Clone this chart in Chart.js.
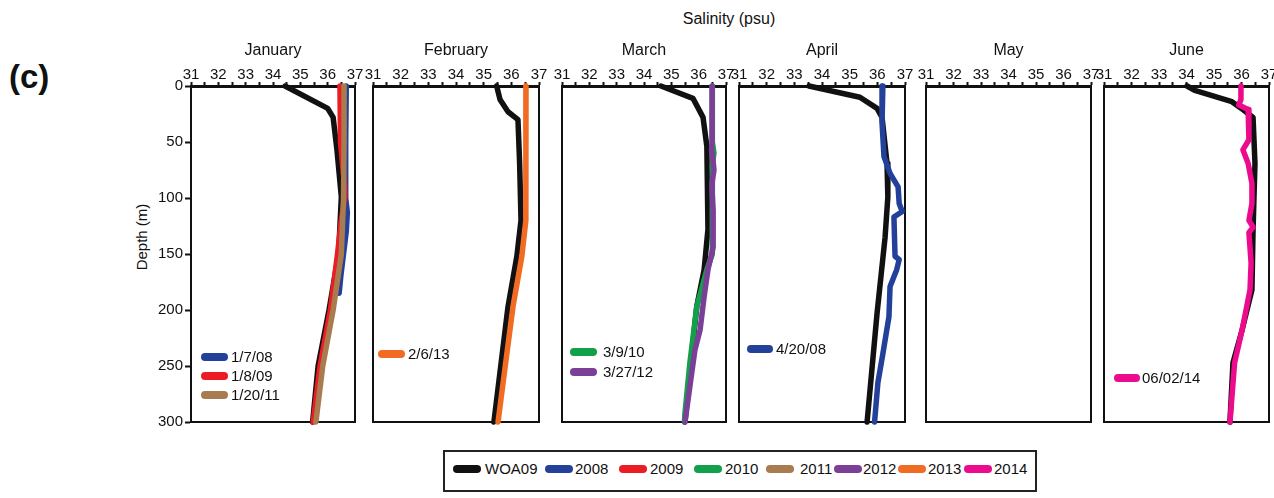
<!DOCTYPE html>
<html>
<head>
<meta charset="utf-8">
<script src="https://cdn.jsdelivr.net/npm/chart.js@4.4.1/dist/chart.umd.min.js"></script>
<style>
  html, body { margin:0; padding:0; background:#fff; }
  body { width:1274px; height:498px; overflow:hidden; position:relative;
         font-family:'Liberation Sans', Arial, Helvetica, sans-serif; color:#111; }
  .abs { position:absolute; white-space:nowrap; }
  .panel { position:absolute; }
  .mtitle { position:absolute; font-size:16px; text-align:center; width:160px; }
  #legendBox { position:absolute; left:443px; top:450px; width:590px; height:38px; border:2px solid #222; }
  .lsw { position:absolute; height:8px; width:28px; border-radius:4px; }
  .ltx { position:absolute; font-size:15px; }
</style>
</head>
<body>
<div class="abs" style="left:634px;top:10px;width:190px;text-align:center;font-size:16px;">Salinity (psu)</div>
<div class="abs" style="left:9px;top:58px;font-weight:bold;font-size:33px;font-family:'Liberation Sans Narrow','Liberation Sans',Arial,sans-serif;">(c)</div>
<div class="abs" style="left:141px;top:237px;transform:translate(-50%,-50%) rotate(-90deg);font-size:15px;">Depth (m)</div>
<div id="legendBox"></div>

<script>
// ---------------- DATA ----------------
const months = ['January', 'February', 'March', 'April', 'May', 'June'];
const salinityTicks = [31, 32, 33, 34, 35, 36, 37];
const depthTicks = [0, 50, 100, 150, 200, 250, 300];
const legendYears = ['WOA09', '2008', '2009', '2010', '2011', '2012', '2013', '2014'];

// January
const janWoaDepth = [0, 20, 28, 57, 99, 150, 200, 250, 300];
const janWoaSal   = [34.44, 36.0, 36.2, 36.34, 36.5, 36.4, 36.05, 35.65, 35.45];
const jan08Depth  = [0, 50, 100, 113, 130, 150, 170, 185];
const jan08Sal    = [36.68, 36.66, 36.66, 36.72, 36.68, 36.58, 36.48, 36.42];
const jan09Depth  = [0, 50, 90, 100, 120, 150, 200, 250, 300];
const jan09Sal    = [36.45, 36.47, 36.62, 36.62, 36.5, 36.36, 36.1, 35.72, 35.47];
const jan11Depth  = [0, 50, 100, 150, 200, 250, 300];
const jan11Sal    = [36.6, 36.6, 36.58, 36.5, 36.2, 35.82, 35.57];

// February
const febWoaDepth = [0, 12, 23, 30, 69, 120, 152, 197, 300];
const febWoaSal   = [35.47, 35.59, 35.88, 36.24, 36.3, 36.35, 36.2, 35.88, 35.37];
const feb13Depth  = [0, 60, 120, 152, 197, 250, 300];
const feb13Sal    = [36.53, 36.53, 36.52, 36.38, 36.06, 35.78, 35.52];

// March
const marWoaDepth = [0, 11, 28, 54, 128, 164, 197, 250, 300];
const marWoaSal   = [34.62, 35.79, 36.16, 36.3, 36.34, 36.2, 35.93, 35.7, 35.5];
const mar10Depth  = [0, 50, 60, 70, 100, 150, 164, 197, 247, 292, 300];
const mar10Sal    = [36.5, 36.5, 36.56, 36.5, 36.5, 36.5, 36.3, 35.93, 35.68, 35.5, 35.48];
const mar12Depth  = [0, 50, 57, 65, 75, 85, 93, 111, 144, 164, 188, 218, 236, 300];
const mar12Sal    = [36.49, 36.49, 36.47, 36.52, 36.56, 36.5, 36.49, 36.53, 36.53, 36.34, 36.2, 36.05, 35.86, 35.5];

// April
const aprWoaDepth = [0, 10, 20, 28, 69, 99, 135, 203, 300];
const aprWoaSal   = [33.53, 35.37, 35.99, 36.17, 36.35, 36.38, 36.28, 35.99, 35.63];
const apr08Depth  = [0, 33, 63, 78, 90, 105, 112, 117, 152, 155, 164, 179, 206, 239, 265, 300];
const apr08Sal    = [36.2, 36.17, 36.24, 36.46, 36.75, 36.79, 36.9, 36.6, 36.64, 36.79, 36.7, 36.46, 36.42, 36.2, 36.02, 35.9];

// June
const junWoaDepth = [0, 4, 14, 21, 28, 69, 129, 182, 218, 247, 300];
const junWoaSal   = [34.02, 34.3, 35.65, 36.05, 36.42, 36.49, 36.42, 36.38, 36.02, 35.69, 35.58];
const jun14Depth  = [0, 12, 17, 21, 48, 57, 69, 87, 105, 120, 126, 131, 158, 182, 218, 247, 300];
const jun14Sal    = [35.98, 35.98, 35.9, 36.24, 36.27, 36.05, 36.24, 36.38, 36.38, 36.27, 36.42, 36.27, 36.35, 36.31, 36.02, 35.75, 35.58];

// ---------------- STYLE ----------------
const colors = {
  WOA09: '#111111', '2008': '#23409a', '2009': '#ec1c24', '2010': '#12a04b',
  '2011': '#a97c50', '2012': '#7c3f98', '2013': '#f26b22', '2014': '#ec0b8c'
};

function pts(sal, dep) { return sal.map((s, i) => ({ x: s, y: dep[i] })); }

function series(label, year, sal, dep, order) {
  return {
    label: label, data: pts(sal, dep), showLine: true,
    borderColor: colors[year], backgroundColor: colors[year],
    borderWidth: 5.5, pointRadius: 0, pointHoverRadius: 0,
    borderCapStyle: 'round', borderJoinStyle: 'round', tension: 0,
    clip: false, order: order
  };
}

const PLOT_TOP = 86, PLOT_BOTTOM = 422, CONT_TOP = 56;

const panels = [
  { month: months[0], left: 191, right: 355, axisY: true,
    legend: { x0: 10, x1: 37, tx: 40, y0: 271, gap: 19 },
    datasets: [
      series('WOA09', 'WOA09', janWoaSal, janWoaDepth, 10),
      series('1/7/08', '2008', jan08Sal, jan08Depth, 3),
      series('1/8/09', '2009', jan09Sal, jan09Depth, 2),
      series('1/20/11', '2011', jan11Sal, jan11Depth, 1)
    ] },
  { month: months[1], left: 373, right: 539, axisY: false,
    legend: { x0: 5, x1: 32, tx: 35, y0: 268, gap: 19 },
    datasets: [
      series('WOA09', 'WOA09', febWoaSal, febWoaDepth, 10),
      series('2/6/13', '2013', feb13Sal, feb13Depth, 1)
    ] },
  { month: months[2], left: 562, right: 726, axisY: false,
    legend: { x0: 8, x1: 35, tx: 41, y0: 266, gap: 20 },
    datasets: [
      series('WOA09', 'WOA09', marWoaSal, marWoaDepth, 10),
      series('3/9/10', '2010', mar10Sal, mar10Depth, 2),
      series('3/27/12', '2012', mar12Sal, mar12Depth, 1)
    ] },
  { month: months[3], left: 739, right: 905, axisY: false,
    legend: { x0: 8, x1: 34, tx: 37, y0: 263, gap: 19 },
    datasets: [
      series('WOA09', 'WOA09', aprWoaSal, aprWoaDepth, 10),
      series('4/20/08', '2008', apr08Sal, apr08Depth, 1)
    ] },
  { month: months[4], left: 926, right: 1091, axisY: false,
    legend: { x0: 8, x1: 34, tx: 37, y0: 263, gap: 19 },
    datasets: [] },
  { month: months[5], left: 1104, right: 1269, axisY: false,
    legend: { x0: 10, x1: 36, tx: 38, y0: 292, gap: 19 },
    datasets: [
      series('WOA09', 'WOA09', junWoaSal, junWoaDepth, 10),
      series('06/02/14', '2014', jun14Sal, jun14Depth, 1)
    ] }
];

// ---------------- PLUGIN ----------------
const panelPlugin = {
  id: 'panelFrame',
  beforeDatasetsDraw(chart) {
    const { ctx, chartArea: a } = chart;
    ctx.save();
    ctx.strokeStyle = '#111'; ctx.lineWidth = 2;
    ctx.beginPath();
    ctx.moveTo(a.left, a.top); ctx.lineTo(a.left, a.bottom);
    ctx.lineTo(a.right, a.bottom); ctx.lineTo(a.right, a.top);
    ctx.stroke();
    ctx.restore();
  },
  afterDatasetsDraw(chart, args, opts) {
    const { ctx, chartArea: a } = chart;
    const items = chart.data.datasets.filter(d => d.label !== 'WOA09');
    ctx.save();
    ctx.font = "15px 'Liberation Sans', Arial, sans-serif";
    ctx.textBaseline = 'middle';
    ctx.fillStyle = '#111';
    items.forEach((d, i) => {
      const y = a.top + opts.y0 + i * opts.gap;
      ctx.strokeStyle = d.borderColor; ctx.lineWidth = 8; ctx.lineCap = 'round';
      ctx.beginPath();
      ctx.moveTo(a.left + opts.x0 + 4, y); ctx.lineTo(a.left + opts.x1 - 4, y);
      ctx.stroke();
      ctx.fillText(d.label, a.left + opts.tx, y + 1);
    });
    ctx.restore();
  }
};

Chart.defaults.font.family = "'Liberation Sans', Arial, Helvetica, sans-serif";
Chart.defaults.color = '#111';

panels.forEach(p => {
  const yW = 60, padL = p.axisY ? 0 : 10, padR = 10, padB = 12;
  const contLeft = p.left - (p.axisY ? yW : padL);
  const contW = (p.right - p.left) + (p.axisY ? yW : padL) + padR;
  const contH = PLOT_BOTTOM - CONT_TOP + padB;

  const wrap = document.createElement('div');
  wrap.className = 'panel';
  wrap.style.left = contLeft + 'px';
  wrap.style.top = CONT_TOP + 'px';
  wrap.style.width = contW + 'px';
  wrap.style.height = contH + 'px';
  const cv = document.createElement('canvas');
  cv.width = contW; cv.height = contH;
  cv.style.width = contW + 'px'; cv.style.height = contH + 'px';
  wrap.appendChild(cv);
  document.body.appendChild(wrap);

  const t = document.createElement('div');
  t.className = 'mtitle';
  t.textContent = p.month;
  t.style.left = ((p.left + p.right) / 2 - 80) + 'px';
  t.style.top = '41px';
  document.body.appendChild(t);

  new Chart(cv, {
    type: 'scatter',
    data: { datasets: p.datasets },
    plugins: [panelPlugin],
    options: {
      responsive: false, animation: false, events: [],
      layout: { padding: { left: padL, right: padR, top: 0, bottom: padB } },
      plugins: {
        legend: { display: false }, tooltip: { enabled: false },
        panelFrame: p.legend
      },
      scales: {
        x: {
          type: 'linear', position: 'top',
          min: salinityTicks[0], max: salinityTicks[salinityTicks.length - 1],
          afterFit: s => { s.height = PLOT_TOP - CONT_TOP; },
          afterBuildTicks: s => {
            const tk = [];
            salinityTicks.forEach((v, i) => {
              tk.push({ value: v });
              if (i < salinityTicks.length - 1) tk.push({ value: v + 0.5 });
            });
            s.ticks = tk;
          },
          ticks: {
            autoSkip: false, maxRotation: 0, padding: -2, color: '#111',
            font: { size: 15 },
            callback: v => (Number.isInteger(v) ? String(v) : '')
          },
          grid: { display: true, drawOnChartArea: false, drawTicks: true,
                  tickLength: 4, tickWidth: 2, tickColor: '#111' },
          border: { display: true, color: '#111', width: 3 }
        },
        y: {
          type: 'linear', reverse: true,
          min: depthTicks[0], max: depthTicks[depthTicks.length - 1],
          display: p.axisY,
          afterFit: s => { s.width = p.axisY ? yW : 0; },
          afterBuildTicks: s => { s.ticks = depthTicks.map(v => ({ value: v })); },
          ticks: { padding: 2, color: '#111', font: { size: 15 } },
          grid: { display: true, drawOnChartArea: false, drawTicks: true,
                  tickLength: 6, tickWidth: 2, tickColor: '#111' },
          border: { display: true, color: '#111', width: 2 }
        }
      }
    }
  });
});

// ---------------- BOTTOM LEGEND ----------------
const legendSwatchX = [453, 545, 619, 694, 766, 834, 898, 964];
const legendTextX   = [485, 575, 650, 725, 800, 863, 928, 994];
legendYears.forEach((yr, i) => {
  const sw = document.createElement('div');
  sw.className = 'lsw';
  sw.style.left = legendSwatchX[i] + 'px';
  sw.style.top = '465px';
  sw.style.background = colors[yr];
  document.body.appendChild(sw);
  const tx = document.createElement('div');
  tx.className = 'ltx abs';
  tx.textContent = yr;
  tx.style.left = legendTextX[i] + 'px';
  tx.style.top = '460px';
  document.body.appendChild(tx);
});
</script>
</body>
</html>
